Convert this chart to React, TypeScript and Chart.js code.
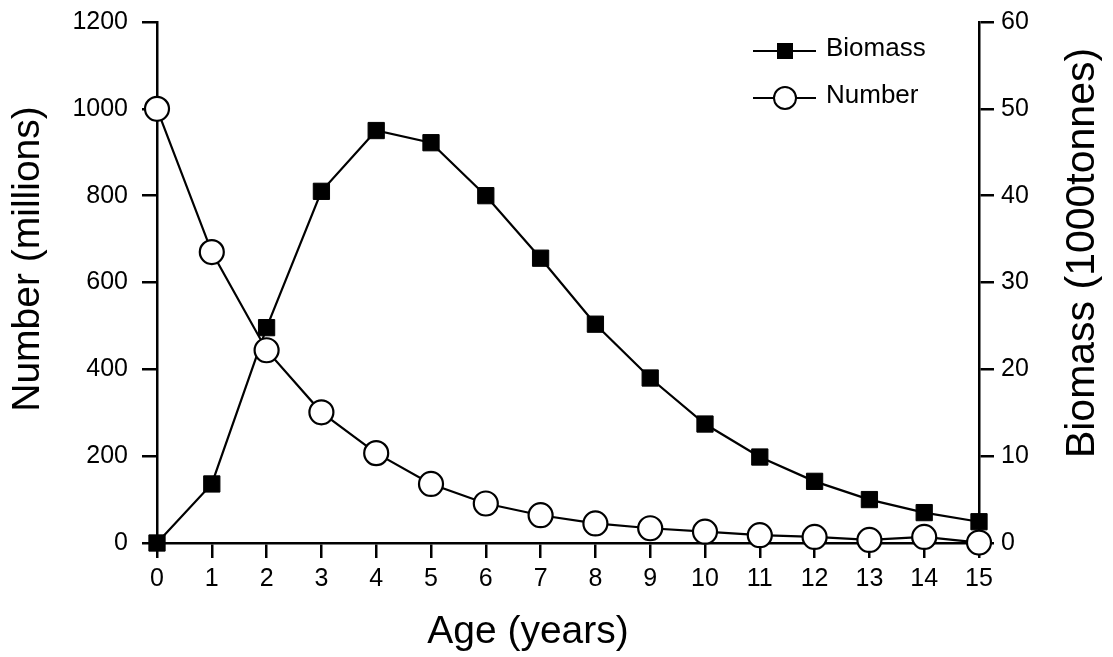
import React, { useEffect, useRef } from "react";
import { Chart, registerables } from "chart.js";

Chart.register(...registerables);

const FONT = '"Liberation Sans", Arial, Helvetica, sans-serif';

const ages = [0, 1, 2, 3, 4, 5, 6, 7, 8, 9, 10, 11, 12, 13, 14, 15];
const biomass = [0, 6.8, 24.8, 40.5, 47.5, 46.1, 40.0, 32.8, 25.2, 19.0, 13.7, 9.9, 7.1, 5.0, 3.5, 2.45];
const numberMillions = [1000, 670, 444, 301, 207, 136, 91, 64, 45, 34, 26, 18, 14, 7, 14, 1];

const xTitle = "Age (years)";
const yTitle = "Number (millions)";
const y2Title = "Biomass (1000tonnes)";
const legendLabels = ["Biomass", "Number"];

const W = 1113;
const H = 657;

const titlesPlugin = {
  id: "customTitles",
  afterDraw(chart: any) {
    const ctx = chart.ctx;
    ctx.save();
    ctx.fillStyle = "#000";
    ctx.font = `39px ${FONT}`;
    ctx.textAlign = "center";
    ctx.textBaseline = "middle";
    ctx.fillText(xTitle, 528, 632);
    ctx.save();
    ctx.translate(28, 259);
    ctx.rotate(-Math.PI / 2);
    ctx.fillText(yTitle, 0, 0);
    ctx.restore();
    ctx.save();
    ctx.font = `41px ${FONT}`;
    ctx.translate(1083, 253);
    ctx.rotate(-Math.PI / 2);
    ctx.fillText(y2Title, 0, 0);
    ctx.restore();
    ctx.restore();
  },
};

const legendPlugin = {
  id: "customLegend",
  afterDraw(chart: any) {
    const ctx = chart.ctx;
    ctx.save();
    ctx.strokeStyle = "#000";
    ctx.lineWidth = 2;
    const y1 = 51;
    ctx.beginPath();
    ctx.moveTo(753, y1);
    ctx.lineTo(816, y1);
    ctx.stroke();
    ctx.fillStyle = "#000";
    ctx.fillRect(785 - 8, y1 - 8, 16, 16);
    const y2 = 98;
    ctx.beginPath();
    ctx.moveTo(753, y2);
    ctx.lineTo(816, y2);
    ctx.stroke();
    ctx.beginPath();
    ctx.arc(785, y2, 11, 0, Math.PI * 2);
    ctx.fillStyle = "#fff";
    ctx.fill();
    ctx.stroke();
    ctx.fillStyle = "#000";
    ctx.font = `26px ${FONT}`;
    ctx.textAlign = "left";
    ctx.textBaseline = "middle";
    ctx.fillText(legendLabels[0], 826, y1 - 2);
    ctx.fillText(legendLabels[1], 826, y2 - 2);
    ctx.restore();
  },
};

const plainTick = (v: any) => String(v);

export default function App() {
  const canvasRef = useRef<HTMLCanvasElement | null>(null);

  useEffect(() => {
    document.body.style.margin = "0";
    const canvas = canvasRef.current;
    if (!canvas) return;
    Chart.defaults.color = "#000";
    Chart.defaults.font.family = FONT;

    const gridOpts = {
      display: true,
      drawOnChartArea: false,
      drawTicks: true,
      tickLength: 15,
      color: "#000",
      lineWidth: 2.5,
    };
    const borderOpts = { display: true, color: "#000", width: 2.5 };
    const tickFont = { size: 25, family: FONT };

    const chart = new Chart(canvas, {
      type: "line",
      data: {
        datasets: [
          {
            label: legendLabels[0],
            data: ages.map((a, i) => ({ x: a, y: biomass[i] })),
            yAxisID: "y1",
            borderColor: "#000",
            backgroundColor: "#000",
            borderWidth: 2.2,
            pointStyle: "rect",
            pointRadius: 11.5,
            pointBorderWidth: 1,
            pointBackgroundColor: "#000",
            pointBorderColor: "#000",
            tension: 0,
            clip: false,
            order: 2,
          },
          {
            label: legendLabels[1],
            data: ages.map((a, i) => ({ x: a, y: numberMillions[i] })),
            yAxisID: "y",
            borderColor: "#000",
            backgroundColor: "#fff",
            borderWidth: 2.2,
            pointStyle: "circle",
            pointRadius: 12,
            pointBorderWidth: 2.2,
            pointBackgroundColor: "#fff",
            pointBorderColor: "#000",
            tension: 0,
            clip: false,
            order: 1,
          },
        ],
      },
      options: {
        responsive: false,
        animation: false,
        layout: { padding: { top: 22, left: 0, right: 0, bottom: 0 } },
        plugins: {
          legend: { display: false },
          tooltip: { enabled: false },
        },
        scales: {
          x: {
            type: "linear",
            min: 0,
            max: 15,
            ticks: { stepSize: 1, font: tickFont, color: "#000", padding: 6, callback: plainTick },
            grid: gridOpts,
            border: borderOpts,
            afterFit(scale: any) {
              scale.height = H - 543;
              scale.paddingLeft = 0;
              scale.paddingRight = 0;
            },
          },
          y: {
            type: "linear",
            position: "left",
            min: 0,
            max: 1200,
            ticks: { stepSize: 200, font: tickFont, color: "#000", padding: 14, callback: plainTick },
            grid: gridOpts,
            border: borderOpts,
            afterFit(scale: any) {
              scale.width = 157;
              scale.paddingTop = 0;
              scale.paddingBottom = 0;
            },
          },
          y1: {
            type: "linear",
            position: "right",
            min: 0,
            max: 60,
            ticks: { stepSize: 10, font: tickFont, color: "#000", padding: 7, callback: plainTick },
            grid: gridOpts,
            border: borderOpts,
            afterFit(scale: any) {
              scale.width = W - 979;
              scale.paddingTop = 0;
              scale.paddingBottom = 0;
            },
          },
        },
      },
      plugins: [titlesPlugin, legendPlugin],
    });

    return () => {
      chart.destroy();
    };
  }, []);

  return (
    <div style={{ position: "absolute", left: 0, top: 0, width: W, height: H }}>
      <canvas ref={canvasRef} width={W} height={H} style={{ display: "block", width: W, height: H }} />
    </div>
  );
}
